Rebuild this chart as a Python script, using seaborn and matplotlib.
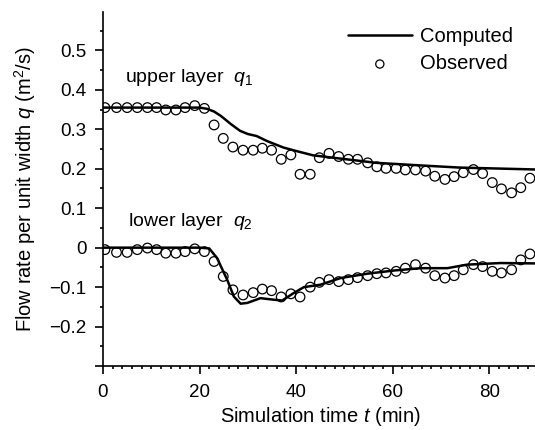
import numpy as np
import matplotlib
matplotlib.use("Agg")
import matplotlib.pyplot as plt
import seaborn as sns
from matplotlib.ticker import FixedLocator, MultipleLocator, FixedFormatter

# observed sampling times (min)
t_obs = [0.4, 2.8, 5.0, 7.1, 9.2, 11.1, 13.0, 15.1, 17.0, 19.0, 21.0, 23.0, 24.9, 26.9, 29.0,
         31.1, 33.0, 34.9, 36.9, 38.9, 40.8, 42.9, 44.8, 46.8, 48.8, 50.8, 52.7, 54.8, 56.7, 58.6,
         60.7, 62.6, 64.7, 66.8, 68.7, 70.8, 72.7, 74.6, 76.7, 78.6, 80.6, 82.5, 84.6, 86.5, 88.4]
q1_obs = [0.355, 0.355, 0.355, 0.355, 0.355, 0.355, 0.349, 0.349, 0.355, 0.360, 0.353, 0.311,
          0.277, 0.255, 0.247, 0.247, 0.252, 0.247, 0.224, 0.235, 0.186, 0.186, 0.228, 0.239,
          0.231, 0.224, 0.224, 0.215, 0.205, 0.201, 0.201, 0.197, 0.197, 0.194, 0.181, 0.173,
          0.180, 0.190, 0.198, 0.188, 0.165, 0.149, 0.139, 0.152, 0.176]
q2_obs = [-0.005, -0.012, -0.012, -0.005, -0.001, -0.005, -0.014, -0.014, -0.010, -0.003, -0.010,
          -0.035, -0.073, -0.107, -0.120, -0.114, -0.105, -0.109, -0.125, -0.117, -0.125, -0.100,
          -0.088, -0.081, -0.086, -0.081, -0.076, -0.071, -0.066, -0.064, -0.060, -0.052, -0.043,
          -0.052, -0.071, -0.077, -0.071, -0.056, -0.043, -0.048, -0.060, -0.064, -0.056, -0.031,
          -0.016]

# computed curves
t_q1 = [0, 10, 20, 21.5, 23, 24.4, 26.5, 28.4, 30, 31.8, 34, 37.3, 40, 43.5, 49, 56.6, 64.9, 73.8, 90]
q1_calc = [0.355, 0.355, 0.355, 0.352, 0.345, 0.334, 0.313, 0.296, 0.288, 0.283, 0.27, 0.254,
           0.245, 0.234, 0.226, 0.215, 0.209, 0.203, 0.198]
t_q2 = [0, 10, 20, 22, 23.6, 25.7, 27.1, 28.5, 29.9, 32.6, 35.4, 37.1, 39.5, 41.6, 45, 49.2,
        54.7, 60.2, 65.8, 71.3, 75.4, 82.3, 90]
q2_calc = [0, 0, 0, -0.002, -0.026, -0.081, -0.124, -0.142, -0.140, -0.128, -0.132, -0.134,
           -0.115, -0.100, -0.094, -0.077, -0.066, -0.058, -0.052, -0.052, -0.043, -0.039, -0.040]

ytick_vals = [-0.3, -0.2, -0.1, 0, 0.1, 0.2, 0.3, 0.4, 0.5]
ytick_labels = ["", "\u22120.2", "\u22120.1", "0", "0.1", "0.2", "0.3", "0.4", "0.5"]

sns.set_style("ticks")
plt.rcParams['font.family'] = ['Liberation Sans', 'DejaVu Sans']
plt.rcParams['mathtext.fontset'] = 'custom'
plt.rcParams['mathtext.rm'] = 'Liberation Sans'
plt.rcParams['mathtext.it'] = 'Liberation Sans:italic'
plt.rcParams['text.color'] = 'black'
plt.rcParams['axes.labelcolor'] = 'black'
plt.rcParams['xtick.color'] = 'black'
plt.rcParams['ytick.color'] = 'black'

fig = plt.figure(figsize=(5.35, 4.3), dpi=100)
ax = fig.add_axes([0.1925, 0.1488, 0.8125, 0.823])

sns.lineplot(x=t_q1, y=q1_calc, ax=ax, color="black", linewidth=1.8, label="Computed")
sns.lineplot(x=t_q2, y=q2_calc, ax=ax, color="black", linewidth=1.8, label="_nolegend_")
sns.scatterplot(x=t_obs, y=q1_obs, ax=ax, marker="o", s=48, facecolor="none",
                edgecolor="black", linewidth=0.9, label="Observed", zorder=3)
sns.scatterplot(x=t_obs, y=q2_obs, ax=ax, marker="o", s=48, facecolor="none",
                edgecolor="black", linewidth=0.9, label="_nolegend_", zorder=3)

ax.set_xlim(0, 90)
ax.set_ylim(-0.3, 0.597)
ax.xaxis.set_major_locator(FixedLocator([0, 20, 40, 60, 80]))
ax.xaxis.set_minor_locator(MultipleLocator(2))
ax.yaxis.set_major_locator(FixedLocator(ytick_vals))
ax.yaxis.set_major_formatter(FixedFormatter(ytick_labels))
ax.yaxis.set_minor_locator(MultipleLocator(0.05))
ax.tick_params(which="major", length=6, width=1.2, labelsize=13.5, color="black",
               labelcolor="black")
ax.tick_params(which="minor", length=2.5, width=1.2, color="black")
ax.tick_params(axis="x", which="major", pad=7)
ax.tick_params(axis="y", which="major", pad=6)
for side in ["top", "right"]:
    ax.spines[side].set_visible(False)
for side in ["left", "bottom"]:
    ax.spines[side].set_linewidth(1.2)
    ax.spines[side].set_color("black")

ax.set_xlabel("Simulation time $\\mathit{t}$ (min)", fontsize=14.5, labelpad=3, color="black")
ax.set_ylabel("Flow rate per unit width $\\mathit{q}$ (m$^2$/s)", fontsize=14.5, labelpad=8,
              color="black")

ax.text(4.55, 0.42, "upper layer  $\\mathit{q}_{\\mathit{1}}$", fontsize=14, va="baseline",
        color="black")
ax.text(5.2, 0.056, "lower layer  $\\mathit{q}_{\\mathit{2}}$", fontsize=14, va="baseline",
        color="black")

leg = ax.legend(loc="upper right", bbox_to_anchor=(0.962, 0.98), frameon=False, fontsize=14.5,
                handlelength=3.2, handletextpad=0.4, borderaxespad=0, labelspacing=0.4,
                markerscale=0.85)
for txt in leg.get_texts():
    txt.set_color("black")

fig.savefig("out.png", dpi=100)
